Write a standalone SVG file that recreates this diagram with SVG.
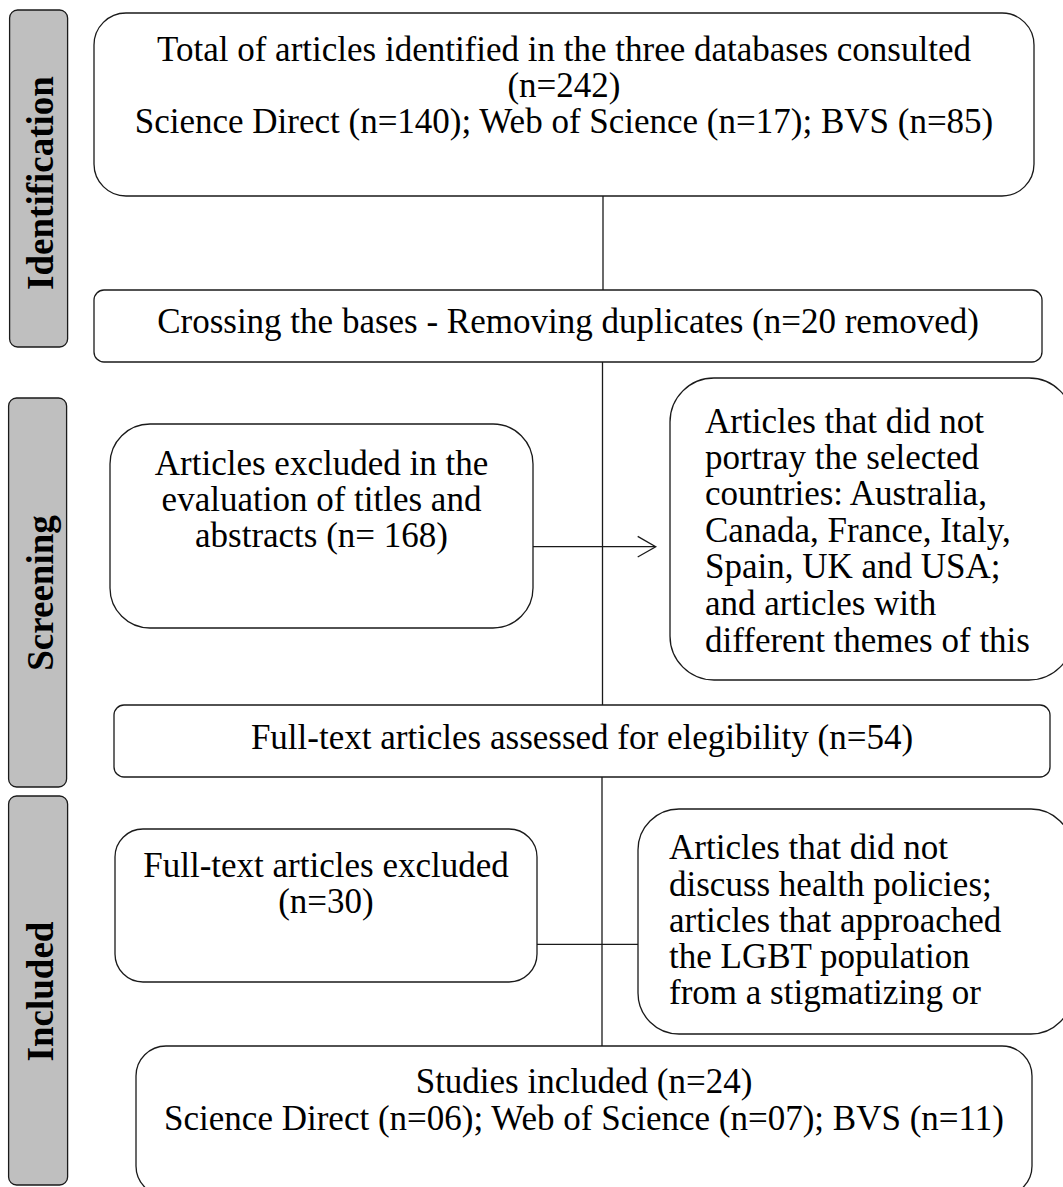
<svg xmlns="http://www.w3.org/2000/svg" width="1063" height="1187" viewBox="0 0 1063 1187">
<style>
.box{fill:#fff;stroke:#1a1a1a;stroke-width:1.3}
.lab{fill:#bfbfbf;stroke:#1a1a1a;stroke-width:1.3}
.t{font-family:"Liberation Serif","Times New Roman",serif;font-size:35px;fill:#000}
.c{text-anchor:middle}
.v{font-family:"Liberation Serif","Times New Roman",serif;font-size:37px;font-weight:bold;fill:#000;text-anchor:middle}
.ln{stroke:#1a1a1a;stroke-width:1.3;fill:none}
</style>
<rect width="1063" height="1187" fill="#fff"/>
<g id="stage-identification">
<rect class="lab" x="9.6" y="10" width="58" height="337" rx="8"/>
<text class="v" transform="translate(53,183) rotate(-90)">Identification</text>
</g>
<g id="stage-screening">
<rect class="lab" x="8.6" y="398" width="58" height="389" rx="8"/>
<text class="v" transform="translate(53,593) rotate(-90)">Screening</text>
</g>
<g id="stage-included">
<rect class="lab" x="8.6" y="796" width="59" height="389" rx="8"/>
<text class="v" transform="translate(53,991.5) rotate(-90)">Included</text>
</g>
<g id="connectors">
<line class="ln" x1="603" y1="196" x2="603" y2="290"/>
<line class="ln" x1="602.5" y1="362" x2="602.5" y2="705"/>
<line class="ln" x1="602" y1="777" x2="602" y2="1046"/>
<line class="ln" x1="533" y1="546.7" x2="655" y2="546.7"/>
<polyline class="ln" points="637.7,536.4 655.7,546.7 637.7,557"/>
<line class="ln" x1="537" y1="944.3" x2="638" y2="944.3"/>
</g>
<g id="n-total">
<rect class="box" x="94" y="13" width="940" height="183" rx="32"/>
<text class="t c" x="564" y="61">Total of articles identified in the three databases consulted</text>
<text class="t c" x="564" y="97">(n=242)</text>
<text class="t c" x="564" y="133">Science Direct (n=140); Web of Science (n=17); BVS (n=85)</text>
</g>
<g id="n-duplicates">
<rect class="box" x="94" y="290" width="948" height="72" rx="10"/>
<text class="t c" x="568" y="333">Crossing the bases - Removing duplicates (n=20 removed)</text>
</g>
<g id="n-excluded-titles">
<rect class="box" x="110" y="424" width="423" height="204" rx="40"/>
<text class="t c" x="321.5" y="475">Articles excluded in the</text>
<text class="t c" x="321.5" y="511">evaluation of titles and</text>
<text class="t c" x="321.5" y="547">abstracts (n= 168)</text>
</g>
<g id="n-excluded-reason">
<rect class="box" x="670" y="378" width="403" height="302" rx="44"/>
<text class="t" x="705" y="433">Articles that did not</text>
<text class="t" x="705" y="469">portray the selected</text>
<text class="t" x="705" y="505">countries: Australia,</text>
<text class="t" x="705" y="542">Canada, France, Italy,</text>
<text class="t" x="705" y="578">Spain, UK and USA;</text>
<text class="t" x="705" y="615">and articles with</text>
<text class="t" x="705" y="652">different themes of this</text>
</g>
<g id="n-fulltext">
<rect class="box" x="114" y="705" width="936" height="72" rx="10"/>
<text class="t c" x="582" y="749">Full-text articles assessed for elegibility (n=54)</text>
</g>
<g id="n-fulltext-excluded">
<rect class="box" x="115" y="829" width="422" height="153" rx="28"/>
<text class="t c" x="326" y="877">Full-text articles excluded</text>
<text class="t c" x="326" y="913">(n=30)</text>
</g>
<g id="n-fulltext-reason">
<rect class="box" x="638" y="809" width="434" height="225" rx="41"/>
<text class="t" x="669" y="859">Articles that did not</text>
<text class="t" x="669" y="896">discuss health policies;</text>
<text class="t" x="669" y="932">articles that approached</text>
<text class="t" x="669" y="968">the LGBT population</text>
<text class="t" x="669" y="1004">from a stigmatizing or</text>
</g>
<g id="n-included">
<rect class="box" x="136" y="1046" width="896" height="150" rx="30"/>
<text class="t c" x="584" y="1093">Studies included (n=24)</text>
<text class="t c" x="584" y="1130">Science Direct (n=06); Web of Science (n=07); BVS (n=11)</text>
</g>
</svg>
